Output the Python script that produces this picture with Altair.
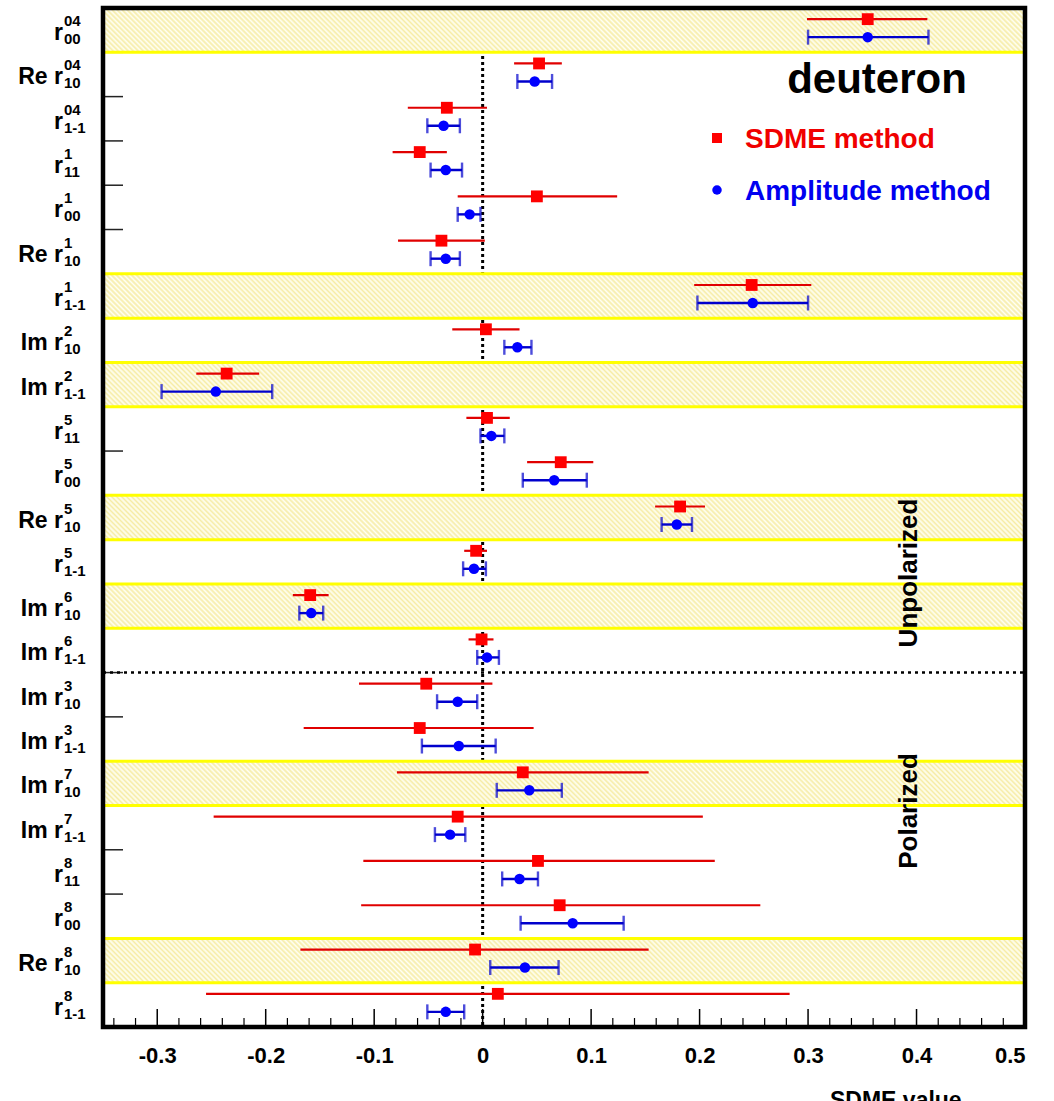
import altair as alt
import pandas as pd

# ---------------- data ----------------
label_main = ["r", "Re r", "r", "r", "r", "Re r", "r", "Im r", "Im r", "r", "r", "Re r",
              "r", "Im r", "Im r", "Im r", "Im r", "Im r", "Im r", "r", "r", "Re r", "r"]
label_sup = ["04", "04", "04", "1", "1", "1", "1", "2", "2", "5", "5", "5",
             "5", "6", "6", "3", "3", "7", "7", "8", "8", "8", "8"]
label_sub = ["00", "10", "1-1", "11", "00", "10", "1-1", "10", "1-1", "11", "00", "10",
             "1-1", "10", "1-1", "10", "1-1", "10", "1-1", "11", "00", "10", "1-1"]

sdme_val = [0.355, 0.052, -0.033, -0.058, 0.050, -0.038, 0.248, 0.003, -0.236, 0.004, 0.072, 0.182,
            -0.006, -0.159, -0.001, -0.052, -0.058, 0.037, -0.023, 0.051, 0.071, -0.007, 0.014]
sdme_lo = [0.299, 0.029, -0.069, -0.083, -0.023, -0.078, 0.195, -0.028, -0.264, -0.015, 0.041, 0.159,
           -0.017, -0.175, -0.013, -0.114, -0.165, -0.079, -0.248, -0.110, -0.112, -0.168, -0.255]
sdme_hi = [0.410, 0.073, 0.004, -0.033, 0.124, 0.002, 0.303, 0.034, -0.206, 0.025, 0.102, 0.205,
           0.004, -0.142, 0.010, 0.009, 0.047, 0.153, 0.203, 0.214, 0.256, 0.153, 0.283]

amp_val = [0.355, 0.048, -0.036, -0.034, -0.012, -0.034, 0.249, 0.032, -0.246, 0.008, 0.066, 0.179,
           -0.008, -0.158, 0.004, -0.023, -0.022, 0.043, -0.030, 0.034, 0.083, 0.039, -0.034]
amp_lo = [0.300, 0.032, -0.051, -0.048, -0.023, -0.048, 0.198, 0.020, -0.296, -0.002, 0.037, 0.165,
          -0.018, -0.169, -0.005, -0.042, -0.056, 0.013, -0.044, 0.018, 0.035, 0.007, -0.051]
amp_hi = [0.411, 0.064, -0.021, -0.019, -0.002, -0.021, 0.300, 0.045, -0.194, 0.020, 0.096, 0.193,
          0.003, -0.147, 0.015, -0.005, 0.012, 0.073, -0.016, 0.051, 0.130, 0.070, -0.017]

banded_rows = [0, 6, 8, 11, 13, 17, 21]
n_unpolarized = 15

major_ticks = [-0.3, -0.2, -0.1, 0.0, 0.1, 0.2, 0.3, 0.4, 0.5]
minor_ticks = [-0.34, -0.32, -0.28, -0.26, -0.24, -0.22, -0.18, -0.16, -0.14, -0.12,
               -0.08, -0.06, -0.04, -0.02, 0.02, 0.04, 0.06, 0.08, 0.12, 0.14, 0.16, 0.18,
               0.22, 0.24, 0.26, 0.28, 0.32, 0.34, 0.36, 0.38, 0.42, 0.44, 0.46, 0.48]

# ---------------- layout ----------------
W, H = 922, 1019
FONT = "Liberation Sans"
n_rows = len(label_main)
row_h = H / n_rows

xs = alt.Scale(domain=[-0.35, 0.5], nice=False, zero=False)
ys = alt.Scale(domain=[-0.5, n_rows - 0.5], reverse=True, nice=False, zero=False)

x_axis = alt.Axis(
    values=major_ticks, ticks=False, domain=False, grid=False, title=None,
    labelFont=FONT, labelFontSize=22, labelFontWeight="bold", labelColor="black",
    labelPadding=18, labelExpr="(datum.value < 0 ? '-' : '') + format(abs(datum.value), '~g')")


def X(field):
    return alt.X(field, scale=xs, axis=x_axis, title=None)


def Y(field):
    return alt.Y(field, scale=ys, axis=None)


rows = pd.DataFrame({
    "idx": list(range(n_rows)),
    "main": label_main, "sup": label_sup, "sub": label_sub,
    "s_val": sdme_val, "s_lo": sdme_lo, "s_hi": sdme_hi,
    "a_val": amp_val, "a_lo": amp_lo, "a_hi": amp_hi,
})

# hatch gradient for bands (diagonal "\" stripes)
period = 5.0
k = 1.06
span = k * W
n_str = int(span / period) + 2
stops = []
for i in range(n_str):
    t0 = i * period / span
    t1 = t0 + period / (2 * span)
    if t1 > 1:
        break
    stops.append(alt.GradientStop(offset=t0, color="#fffff4"))
    stops.append(alt.GradientStop(offset=t1, color="#f6eca6"))
hatch = alt.LinearGradient(gradient="linear", stops=stops,
                           x1=1 - k, y1=0, x2=1, y2=-k * row_h / W)

one = alt.Data(values=[{"a": 1}])

# x axis (labels) and inward ticks
major_layer = alt.Chart(pd.DataFrame({"v": major_ticks})).mark_rule(color="black", strokeWidth=1.5).encode(
    x=X("v:Q"), y=alt.value(H), y2=alt.value(H - 18))

minor_layer = alt.Chart(pd.DataFrame({"v": minor_ticks})).mark_rule(color="black", strokeWidth=1.2).encode(
    x=X("v:Q"), y=alt.value(H), y2=alt.value(H - 9))

row_ticks = alt.Chart(rows[rows.idx > 0]).transform_calculate(b="datum.idx - 0.5").mark_rule(
    color="#222222", strokeWidth=1.5).encode(
    y=Y("b:Q"), x=alt.value(0), x2=alt.value(20))

zero_line = alt.Chart(pd.DataFrame({"v": [0.0]})).mark_rule(
    color="black", strokeWidth=3, strokeDash=[3, 3]).encode(
    x=X("v:Q"), y=alt.value(0), y2=alt.value(H))

bands = alt.Chart(pd.DataFrame({"idx": banded_rows})).transform_calculate(
    y0="datum.idx - 0.5", y1="datum.idx + 0.5").mark_rect(
    fill=hatch, stroke="#ffff00", strokeWidth=3).encode(
    x=alt.value(0), x2=alt.value(W), y=Y("y0:Q"), y2="y1:Q")

sep = alt.Chart(pd.DataFrame({"b": [n_unpolarized - 0.5]})).mark_rule(
    color="black", strokeWidth=2.5, strokeDash=[3, 4]).encode(
    y=Y("b:Q"), x=alt.value(0), x2=alt.value(W))

RED_OFF, BLUE_OFF = -11, 7

red_err = alt.Chart(rows).mark_rule(color="#e00000", strokeWidth=2.2, yOffset=RED_OFF).encode(
    x=X("s_lo:Q"), x2="s_hi:Q", y=Y("idx:Q"))
blue_err = alt.Chart(rows).mark_rule(color="#0000cc", strokeWidth=2.4, yOffset=BLUE_OFF).encode(
    x=X("a_lo:Q"), x2="a_hi:Q", y=Y("idx:Q"))
blue_caps = alt.Chart(rows).transform_fold(["a_lo", "a_hi"], as_=["k", "v"]).mark_tick(
    orient="vertical", color="#0000cc", size=15, thickness=2.4, yOffset=BLUE_OFF).encode(
    x=X("v:Q"), y=Y("idx:Q"))
red_pts = alt.Chart(rows).mark_point(shape="square", filled=True, opacity=1, size=140,
                                     color="#ff0000", yOffset=RED_OFF).encode(
    x=X("s_val:Q"), y=Y("idx:Q"))
blue_pts = alt.Chart(rows).mark_point(shape="circle", filled=True, opacity=1, size=110,
                                      color="#0000ff", yOffset=BLUE_OFF).encode(
    x=X("a_val:Q"), y=Y("idx:Q"))

lab_main = alt.Chart(rows).mark_text(align="right", baseline="alphabetic", font=FONT, fontSize=23,
                                     fontWeight="bold", color="black", dy=10).encode(
    x=alt.value(-40), y=Y("idx:Q"), text="main:N")
lab_sup = alt.Chart(rows).mark_text(align="left", baseline="alphabetic", font=FONT, fontSize=15,
                                    fontWeight="bold", color="black", dy=-4).encode(
    x=alt.value(-39), y=Y("idx:Q"), text="sup:N")
lab_sub = alt.Chart(rows).mark_text(align="left", baseline="alphabetic", font=FONT, fontSize=15,
                                    fontWeight="bold", color="black", dy=14).encode(
    x=alt.value(-39), y=Y("idx:Q"), text="sub:N")

title_txt = alt.Chart(one).mark_text(align="center", baseline="alphabetic", font=FONT, fontSize=42,
                                     fontWeight="bold", color="black").encode(
    x=alt.value(774), y=alt.value(85), text=alt.value("deuteron"))
leg_sq = alt.Chart(one).mark_point(shape="square", filled=True, opacity=1, size=100, color="#ff0000").encode(
    x=alt.value(614), y=alt.value(130))
leg_ci = alt.Chart(one).mark_point(shape="circle", filled=True, opacity=1, size=90, color="#0000ff").encode(
    x=alt.value(614), y=alt.value(182))
leg_t1 = alt.Chart(one).mark_text(align="left", baseline="alphabetic", font=FONT, fontSize=28,
                                  fontWeight="bold", color="#f00000").encode(
    x=alt.value(642), y=alt.value(140), text=alt.value("SDME method"))
leg_t2 = alt.Chart(one).mark_text(align="left", baseline="alphabetic", font=FONT, fontSize=28,
                                  fontWeight="bold", color="#0000f0").encode(
    x=alt.value(642), y=alt.value(192), text=alt.value("Amplitude method"))
unpol = alt.Chart(one).mark_text(align="center", baseline="middle", font=FONT, fontSize=26,
                                 fontWeight="bold", color="black", angle=270).encode(
    x=alt.value(806), y=alt.value(565), text=alt.value("Unpolarized"))
pol = alt.Chart(one).mark_text(align="center", baseline="middle", font=FONT, fontSize=26,
                               fontWeight="bold", color="black", angle=270).encode(
    x=alt.value(806), y=alt.value(803), text=alt.value("Polarized"))
xtitle = alt.Chart(one).mark_text(align="left", baseline="alphabetic", font=FONT, fontSize=23,
                                  fontWeight="bold", color="black").encode(
    x=alt.value(727), y=alt.value(1100), text=alt.value("SDME value"))

frame = alt.Chart(one).mark_rect(filled=False, stroke="black", strokeWidth=4.5).encode(
    x=alt.value(0), x2=alt.value(W), y=alt.value(0), y2=alt.value(H))

chart = alt.layer(
    major_layer, minor_layer, row_ticks, zero_line, bands, sep,
    red_err, blue_err, blue_caps, red_pts, blue_pts,
    lab_main, lab_sup, lab_sub, title_txt, leg_sq, leg_ci, leg_t1, leg_t2, unpol, pol, xtitle,
    frame,
).properties(
    width=W, height=H,
    autosize=alt.AutoSizeParams(type="none"),
    padding={"left": 103, "top": 8, "right": 29, "bottom": 74},
    background="white",
).configure_view(strokeWidth=0)

chart.save("out.html", embed_options={"renderer": "svg", "actions": False})
